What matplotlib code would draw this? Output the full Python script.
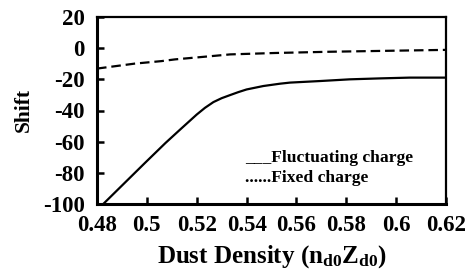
import matplotlib
matplotlib.use("Agg")
import matplotlib.pyplot as plt

plt.rcParams['font.family'] = ['Liberation Serif', 'DejaVu Serif']
plt.rcParams['font.weight'] = 'bold'
plt.rcParams['mathtext.fontset'] = 'custom'
plt.rcParams['mathtext.rm'] = 'Liberation Serif:bold'
plt.rcParams['mathtext.bf'] = 'Liberation Serif:bold'
plt.rcParams['mathtext.it'] = 'Liberation Serif:bold'

# Fluctuating charge (solid)
fluct_x = [0.4825, 0.4992, 0.5075, 0.5133, 0.5200, 0.5233, 0.5267, 0.5300, 0.5334, 0.5367,
           0.5400, 0.5467, 0.5534, 0.5574, 0.5694, 0.5814, 0.5934, 0.6054, 0.6200]
fluct_y = [-100.0, -73.7, -60.8, -52.3, -42.6, -38.3, -34.6, -32.1, -30.1, -28.2,
           -26.5, -24.3, -22.8, -22.1, -21.1, -20.0, -19.4, -18.9, -18.9]

# Fixed charge (dashed)
fixed_x = [0.48, 0.4952, 0.5059, 0.5113, 0.5273, 0.5334, 0.5513, 0.5734, 0.600, 0.620]
fixed_y = [-13.1, -9.9, -8.3, -7.2, -4.9, -4.0, -3.1, -2.3, -1.6, -1.1]

xticks = [0.48, 0.5, 0.52, 0.54, 0.56, 0.58, 0.6, 0.62]
xtick_labels = ['0.48', '0.5', '0.52', '0.54', '0.56', '0.58', '0.6', '0.62']
yticks = [-100, -80, -60, -40, -20, 0, 20]
ytick_labels = ['-100', '-80', '-60', '-40', '-20', '0', '20']

fig = plt.figure(figsize=(4.69, 2.75), dpi=100)
ax = fig.add_axes([97/469, 1-204/275, (446-97)/469, (204-17)/275])

ax.plot(fluct_x, fluct_y, color='black', lw=1.6, solid_capstyle='butt',
        solid_joinstyle='round')
ax.plot(fixed_x, fixed_y, color='black', lw=1.6, dashes=(4.3, 2.2))

ax.set_xlim(0.48, 0.62)
ax.set_ylim(-100, 20)
ax.set_xticks(xticks)
ax.set_xticklabels(xtick_labels)
ax.set_yticks(yticks)
ax.set_yticklabels(ytick_labels)

for s in ['left', 'bottom']:
    ax.spines[s].set_linewidth(2.2)
for s in ['top', 'right']:
    ax.spines[s].set_linewidth(1.6)

ax.tick_params(direction='in', length=5, width=1.8, labelsize=16.5)
ax.tick_params(axis='y', pad=9)
ax.tick_params(axis='x', pad=8)
for lab in ax.get_xticklabels() + ax.get_yticklabels():
    lab.set_fontweight('bold')

ax.set_ylabel('Shift', fontsize=15.5, fontweight='bold', labelpad=6)
ax.set_xlabel(r'Dust Density (n$_{\mathbf{d0}}$Z$_{\mathbf{d0}}$)', fontsize=18,
              fontweight='bold', labelpad=5)

ax.text(0.5394, -72.9, '___Fluctuating charge', fontsize=12.6, fontweight='bold', va='baseline')
ax.text(0.5394, -85.8, '......Fixed charge', fontsize=12.6, fontweight='bold', va='baseline')

fig.savefig('out.png', dpi=100)
